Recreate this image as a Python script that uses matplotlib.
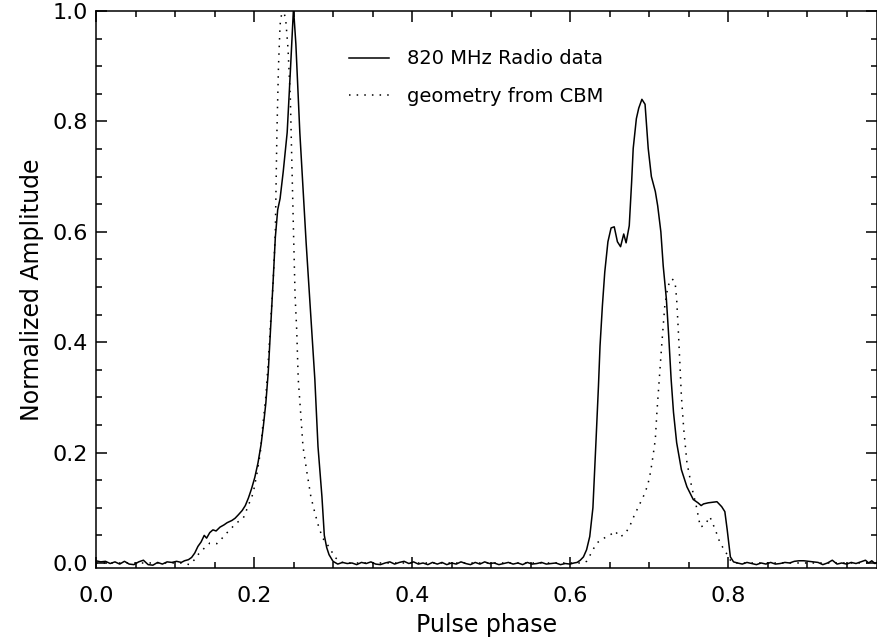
import matplotlib
matplotlib.use("Agg")
import matplotlib.pyplot as plt
from matplotlib.ticker import MultipleLocator

# ---- data ----
phase_radio = [
    0.000, 0.006, 0.012, 0.018, 0.024, 0.030, 0.036, 0.042, 0.048, 0.054,
    0.060, 0.066, 0.072, 0.078, 0.084, 0.090, 0.096, 0.102, 0.108, 0.112,
    0.117, 0.121, 0.125, 0.129, 0.133, 0.137, 0.140, 0.144, 0.148, 0.152,
    0.157, 0.162, 0.166, 0.172, 0.176, 0.180, 0.185, 0.189, 0.193, 0.197,
    0.201, 0.205, 0.209, 0.212, 0.215, 0.218, 0.221, 0.224, 0.227, 0.230,
    0.233, 0.237, 0.242, 0.246, 0.250, 0.253, 0.258, 0.262, 0.266, 0.270,
    0.274, 0.277, 0.281, 0.286, 0.289, 0.292, 0.295, 0.300, 0.306, 0.312,
    0.318, 0.324, 0.330, 0.336, 0.342, 0.348, 0.354, 0.360, 0.366, 0.372,
    0.378, 0.384, 0.390, 0.396, 0.402, 0.408, 0.414, 0.420, 0.426, 0.432,
    0.438, 0.444, 0.450, 0.456, 0.462, 0.468, 0.474, 0.480, 0.486, 0.492,
    0.498, 0.504, 0.510, 0.516, 0.522, 0.528, 0.534, 0.540, 0.546, 0.552,
    0.558, 0.564, 0.570, 0.576, 0.582, 0.588, 0.594, 0.600, 0.605, 0.609,
    0.613, 0.617, 0.621, 0.625, 0.629, 0.631, 0.633, 0.636, 0.638, 0.641,
    0.644, 0.648, 0.652, 0.656, 0.660, 0.664, 0.668, 0.671, 0.675, 0.678,
    0.680, 0.684, 0.687, 0.691, 0.695, 0.699, 0.703, 0.708, 0.711, 0.715,
    0.718, 0.722, 0.725, 0.728, 0.731, 0.735, 0.741, 0.748, 0.756, 0.762,
    0.766, 0.769, 0.775, 0.781, 0.786, 0.792, 0.796, 0.799, 0.803, 0.807,
    0.812, 0.818, 0.824, 0.830, 0.836, 0.842, 0.848, 0.854, 0.860, 0.866,
    0.872, 0.878, 0.884, 0.890, 0.896, 0.902, 0.908, 0.914, 0.920, 0.926,
    0.932, 0.938, 0.944, 0.950, 0.956, 0.962, 0.968, 0.974, 0.978, 0.982,
    0.986, 0.990,
]
amp_radio = [
    0.004, 0.002, 0.003, -0.001, 0.002, -0.002, 0.003, -0.002, -0.003, 0.002,
    0.005, -0.003, -0.004, 0.001, -0.002, 0.002, 0.001, 0.003, 0.001, 0.004,
    0.006, 0.010, 0.018, 0.030, 0.038, 0.050, 0.045, 0.055, 0.060, 0.058,
    0.065, 0.069, 0.073, 0.077, 0.081, 0.087, 0.095, 0.104, 0.118, 0.135,
    0.155, 0.181, 0.215, 0.250, 0.290, 0.345, 0.424, 0.505, 0.590, 0.640,
    0.660, 0.709, 0.780, 0.890, 1.005, 0.940, 0.780, 0.680, 0.580, 0.490,
    0.400, 0.333, 0.211, 0.120, 0.050, 0.028, 0.015, 0.003, -0.002, 0.001,
    -0.001, 0.000, -0.003, 0.001, -0.001, 0.002, -0.002, -0.003, 0.000, 0.002,
    -0.002, 0.001, 0.003, -0.001, 0.002, -0.002, 0.000, -0.003, 0.001, -0.002,
    0.001, -0.003, 0.000, -0.002, 0.002, -0.001, -0.003, 0.001, -0.002, 0.002,
    -0.001, 0.000, -0.003, -0.001, 0.001, -0.002, 0.000, -0.003, 0.001, -0.002,
    -0.001, 0.001, -0.002, -0.001, 0.000, -0.003, -0.001, -0.002, 0.000, 0.001,
    0.005, 0.011, 0.024, 0.048, 0.100, 0.160, 0.224, 0.320, 0.393, 0.466,
    0.527, 0.582, 0.607, 0.609, 0.582, 0.573, 0.596, 0.580, 0.611, 0.690,
    0.751, 0.805, 0.824, 0.840, 0.831, 0.751, 0.700, 0.673, 0.647, 0.600,
    0.538, 0.478, 0.410, 0.333, 0.273, 0.218, 0.169, 0.138, 0.115, 0.109,
    0.104, 0.107, 0.109, 0.110, 0.111, 0.102, 0.093, 0.060, 0.011, 0.002,
    0.000, -0.002, 0.001, -0.001, -0.003, 0.000, -0.002, 0.001, -0.002, -0.001,
    0.001, 0.000, 0.003, 0.004, 0.004, 0.003, 0.002, 0.001, -0.003, 0.000,
    0.005, -0.002, 0.000, -0.002, 0.001, -0.001, 0.002, 0.005, 0.000, 0.004,
    -0.001, 0.002,
]

phase_model = [
    0.000, 0.110, 0.115, 0.119, 0.124, 0.128, 0.132, 0.138, 0.144, 0.149,
    0.153, 0.158, 0.162, 0.166, 0.172, 0.178, 0.184, 0.188, 0.192, 0.196,
    0.199, 0.204, 0.208, 0.211, 0.215, 0.218, 0.221, 0.224, 0.227, 0.229,
    0.231, 0.233, 0.236, 0.240, 0.243, 0.246, 0.248, 0.250, 0.252, 0.254,
    0.256, 0.259, 0.262, 0.267, 0.272, 0.277, 0.282, 0.287, 0.292, 0.296,
    0.302, 0.309, 0.315, 0.610, 0.617, 0.621, 0.625, 0.629, 0.634, 0.640,
    0.646, 0.652, 0.657, 0.663, 0.670, 0.676, 0.681, 0.686, 0.691, 0.695,
    0.699, 0.702, 0.705, 0.708, 0.710, 0.713, 0.716, 0.718, 0.720, 0.724,
    0.729, 0.733, 0.735, 0.737, 0.739, 0.741, 0.744, 0.748, 0.754, 0.760,
    0.765, 0.771, 0.777, 0.784, 0.790, 0.797, 0.803, 0.808, 0.990,
]
amp_model = [
    0.000, 0.000, -0.002, -0.003, 0.005, 0.013, 0.020, 0.028, 0.036, 0.036,
    0.035, 0.042, 0.049, 0.055, 0.064, 0.073, 0.078, 0.085, 0.102, 0.115,
    0.127, 0.164, 0.200, 0.247, 0.302, 0.364, 0.436, 0.502, 0.600, 0.780,
    0.900, 0.975, 1.005, 0.987, 0.933, 0.842, 0.720, 0.600, 0.484, 0.424,
    0.333, 0.273, 0.211, 0.164, 0.120, 0.091, 0.065, 0.045, 0.035, 0.027,
    0.011, 0.002, 0.000, 0.000, 0.000, 0.003, 0.013, 0.024, 0.036, 0.043,
    0.047, 0.052, 0.058, 0.047, 0.053, 0.068, 0.085, 0.100, 0.115, 0.127,
    0.145, 0.165, 0.193, 0.224, 0.273, 0.333, 0.393, 0.430, 0.466, 0.502,
    0.515, 0.509, 0.478, 0.424, 0.364, 0.302, 0.242, 0.182, 0.138, 0.102,
    0.065, 0.069, 0.084, 0.060, 0.036, 0.020, 0.005, 0.000, 0.000,
]

label_radio = "820 MHz Radio data"
label_model = "geometry from CBM"
xticks = [0.0, 0.2, 0.4, 0.6, 0.8]
yticks = [0.0, 0.2, 0.4, 0.6, 0.8, 1.0]

# ---- figure ----
W, H = 878, 641
fig = plt.figure(figsize=(W / 100, H / 100), dpi=100)
left, right, top, bottom = 96, 877, 11, 568
ax = fig.add_axes([left / W, (H - bottom) / H, (right - left) / W, (bottom - top) / H])

ax.plot(phase_radio, amp_radio, color="black", lw=1.1, label=label_radio)
ax.plot(phase_model, amp_model, color="black", lw=1.1, linestyle=(0, (1, 4)),
        label=label_model)

ax.set_xlim(0.0, 0.9886)
ax.set_ylim(-0.0091, 1.0)

ax.set_xticks(xticks)
ax.set_xticklabels([f"{v:.1f}" for v in xticks])
ax.set_yticks(yticks)
ax.set_yticklabels([f"{v:.1f}" for v in yticks])
ax.xaxis.set_minor_locator(MultipleLocator(0.05))
ax.yaxis.set_minor_locator(MultipleLocator(0.05))
ax.tick_params(which="both", direction="in", top=True, right=True, width=1.1)
ax.tick_params(which="major", length=8)
ax.tick_params(which="minor", length=4)
ax.tick_params(axis="x", which="major", pad=13, labelsize=16)
ax.tick_params(axis="y", which="major", pad=6, labelsize=16)
for s in ax.spines.values():
    s.set_linewidth(1.1)

ax.set_xlabel("Pulse phase", fontsize=17, labelpad=5)
ax.set_ylabel("Normalized Amplitude", fontsize=17, labelpad=6)

leg = ax.legend(loc="upper left", bbox_to_anchor=((349 - left) / (right - left), 0.931),
                frameon=False, fontsize=14, handlelength=2.05, handletextpad=0.95,
                labelspacing=0.95, borderpad=0, borderaxespad=0)

fig.savefig("out.png", dpi=100)
